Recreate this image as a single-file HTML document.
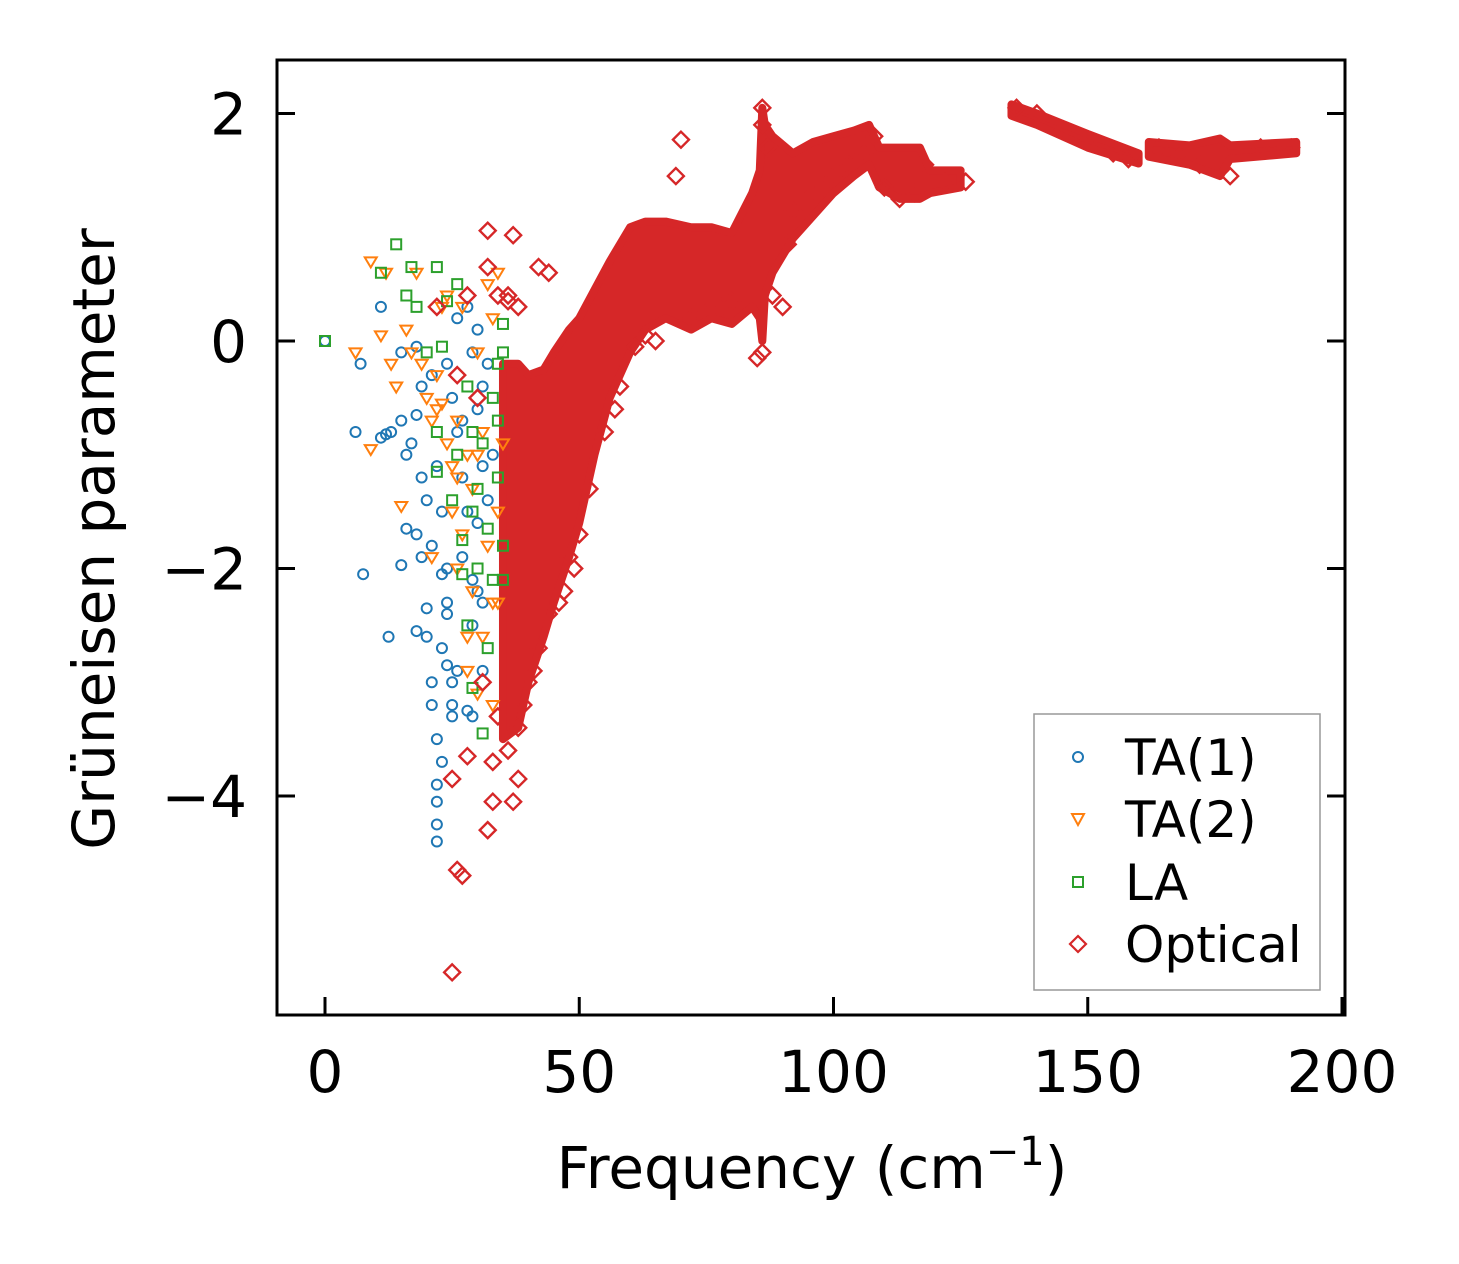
<!DOCTYPE html>
<html><head><meta charset="utf-8"><style>
html,body{margin:0;padding:0;background:#fff;}
svg{display:block;font-family:"DejaVu Sans","Liberation Sans",sans-serif;}
</style></head><body>
<svg id="chart" width="1459" height="1264" viewBox="0 0 1459 1264" xmlns="http://www.w3.org/2000/svg">
<g id="marks"></g>
<rect x="277" y="60" width="1068" height="955" fill="none" stroke="#000" stroke-width="3"/>
<g id="axes"></g>
<text x="812" y="1188" font-size="58" text-anchor="middle">Frequency (cm<tspan dy="-23" font-size="40">−1</tspan><tspan dy="23">)</tspan></text>
<text transform="translate(114,539) rotate(-90)" font-size="58" text-anchor="middle">Grüneisen parameter</text>
<g>
<rect x="1034" y="714" width="286" height="276" fill="#fff" stroke="#999" stroke-width="1.5"/>
<circle cx="1078" cy="757" r="5" fill="none" stroke="#1f77b4" stroke-width="2"/>
<text x="1125" y="775" font-size="50">TA(1)</text>
<path d="M1072,814 L1084,814 L1078,825 Z" fill="none" stroke="#ff7f0e" stroke-width="2"/>
<text x="1125" y="837" font-size="50">TA(2)</text>
<rect x="1073" y="877" width="10" height="10" fill="none" stroke="#2ca02c" stroke-width="2"/>
<text x="1125" y="900" font-size="50">LA</text>
<path d="M1078,936 L1086,944 L1078,952 L1070,944 Z" fill="none" stroke="#d62728" stroke-width="2.2"/>
<text x="1125" y="962" font-size="50">Optical</text>
</g>
</svg>
<script>
const xTicks=[0,50,100,150,200];
const yTicks=[2,0,-2,-4];
const yTickLabels=["2","0","−2","−4"];
const ta1X=[0,7,6,11,11,12,13,15,15,16,16,17,18,18,18,18,19,19,19,20,20,20,21,21,21,21,22,22,22,22,22,22,23,23,23,23,24,24,24,24,25,25,25,25,26,26,26,27,27,28,28,28,29,29,29,30,30,30,30,31,31,31,31,32,32,33,7.5,12.5,15,27,29,24];
const ta1Y=[0,-0.2,-0.8,0.3,-0.85,-0.82,-0.8,-0.1,-0.7,-1.0,-1.65,-0.9,-0.05,-0.65,-1.7,-2.55,-0.4,-1.2,-1.9,-1.4,-2.35,-2.6,-0.3,-1.8,-3.0,-3.2,-1.1,-3.5,-3.9,-4.05,-4.25,-4.4,-1.5,-2.05,-2.7,-3.7,-0.2,-2.3,-2.4,-2.85,-0.5,-3.0,-3.2,-3.3,-0.8,0.2,-2.9,-1.2,-1.9,0.3,-1.5,-3.25,-0.1,-2.1,-2.5,0.1,-0.6,-1.6,-2.2,-0.4,-1.1,-2.3,-2.9,-0.2,-1.4,-1.0,-2.05,-2.6,-1.97,-0.7,-3.3,-2.0];
const ta2X=[6,9,9,11,12,13,14,15,16,17,18,19,20,21,21,22,23,23,24,24,25,25,26,26,27,27,28,28,28,29,29,30,30,31,31,32,32,33,33,34,34,35,34,33,26,30,22];
const ta2Y=[-0.1,0.7,-0.95,0.05,0.6,-0.2,-0.4,-1.45,0.1,-0.1,0.6,-0.2,-0.5,-0.7,-1.9,-0.3,-0.55,0.3,-0.9,0.4,-1.1,-1.5,-0.7,-2.0,0.3,-1.7,-1.0,-2.6,-2.9,-1.3,-2.2,-0.1,-3.1,-0.8,-2.6,0.5,-1.8,-2.3,0.2,-1.5,-2.3,-0.9,0.6,-3.2,-1.2,-1.0,-0.6];
const laX=[0,11,14,16,17,18,20,22,22,22,23,24,25,26,26,27,27,28,28,29,29,30,30,31,31,32,33,33,34,34,35,35,35,35,34,32,29];
const laY=[0,0.6,0.85,0.4,0.65,0.3,-0.1,0.65,-0.8,-1.15,-0.05,0.35,-1.4,0.5,-1.0,-1.75,-2.05,-0.4,-2.5,-0.8,-3.05,-1.3,-2.0,-0.9,-3.45,-1.65,-0.5,-2.1,-0.2,-1.2,0.15,-0.1,-1.8,-2.1,-0.7,-2.7,-1.5];
const optX=[25,26,27,25,28,32,33,37,38,32,37,42,44,70,32,36,26,28,22,30,31,33,34,34,36,36,38,38,39,40,41,42,44,46,47,48,49,50,52,55,57,58,61,63,65,68,69,72,75,78,80,83,85,86,86,86,87,88,90,91,92,95,98,100,103,106,108,110,113,116,118,122,126,136,140,145,150,155,158,164,168,172,176,178,184,190];
const optY=[-5.55,-4.65,-4.7,-3.85,-3.65,-4.3,-4.05,-4.05,-3.85,0.97,0.93,0.65,0.6,1.77,0.65,0.4,-0.3,0.4,0.3,-0.5,-3.0,-3.7,-3.3,0.4,-3.6,0.35,-3.4,0.3,-3.2,-3.0,-2.9,-2.7,-2.4,-2.3,-2.2,-1.9,-2.0,-1.7,-1.3,-0.8,-0.6,-0.4,-0.05,0.05,0.0,0.4,1.45,0.2,0.25,0.3,0.35,0.6,-0.15,2.05,1.9,-0.1,1.7,0.4,0.3,0.85,1.15,1.25,1.35,1.45,1.55,1.65,1.8,1.35,1.25,1.3,1.55,1.4,1.4,2.05,2.0,1.85,1.75,1.65,1.6,1.7,1.62,1.55,1.5,1.45,1.7,1.7];
const bandSeg=[0,0,0,0,0,0,0,0,0,0,0,0,0,0,0,0,0,0,0,0,0,0,0,0,0,0,0,0,0,0,1,1,1,1,2,2,2,2,2];
const bandX=[35,38,40,43,45,48,50,53,56,60,63,67,72,76,80,84,85.5,86,86.5,88,92,96,100,104,107,109,113,117,119,125,135,140,150,160,162,170,176,178,191];
const bandLo=[-3.5,-3.4,-3.0,-2.6,-2.3,-1.9,-1.6,-1.0,-0.5,-0.1,0.1,0.2,0.1,0.2,0.15,0.3,0.2,0.0,0.4,0.6,0.9,1.1,1.3,1.45,1.55,1.35,1.25,1.25,1.3,1.35,1.98,1.9,1.7,1.56,1.62,1.55,1.45,1.6,1.65];
const bandHi=[-0.2,-0.2,-0.3,-0.25,-0.1,0.1,0.2,0.45,0.7,1.0,1.05,1.05,1.0,1.0,0.95,1.3,1.5,2.05,1.9,1.8,1.65,1.75,1.8,1.85,1.9,1.7,1.7,1.7,1.5,1.5,2.08,2.0,1.82,1.65,1.75,1.72,1.78,1.72,1.75];

const X=v=>325+v*5.085;
const Y=v=>341-v*113.75;
const NS="http://www.w3.org/2000/svg";
const marks=document.getElementById('marks');
const axes=document.getElementById('axes');
function mk(tag,attrs,parent){const e=document.createElementNS(NS,tag);for(const k in attrs)e.setAttribute(k,attrs[k]);parent.appendChild(e);return e;}

[0,1,2].forEach(s=>{
  const idx=bandSeg.map((g,i)=>g===s?i:-1).filter(i=>i>=0);
  const top=idx.map(i=>X(bandX[i])+','+Y(bandHi[i]));
  const bot=idx.slice().reverse().map(i=>X(bandX[i])+','+Y(bandLo[i]));
  const p=mk('polygon',{points:top.concat(bot).join(' '),fill:'#d62728',stroke:'#d62728','stroke-width':8,'stroke-linejoin':'round'},marks);
  
  
});
ta1X.forEach((x,i)=>{
  const c=mk('circle',{cx:X(x),cy:Y(ta1Y[i]),r:5,fill:'none',stroke:'#1f77b4','stroke-width':2},marks);
  
  
});
ta2X.forEach((x,i)=>{
  const cx=X(x),cy=Y(ta2Y[i]);
  const p=mk('path',{d:`M${cx-6},${cy-4} L${cx+6},${cy-4} L${cx},${cy+6} Z`,fill:'none',stroke:'#ff7f0e','stroke-width':2},marks);
  
  
});
laX.forEach((x,i)=>{
  const r=mk('rect',{x:X(x)-5,y:Y(laY[i])-5,width:10,height:10,fill:'none',stroke:'#2ca02c','stroke-width':2},marks);
  
  
});
optX.forEach((x,i)=>{
  const cx=X(x),cy=Y(optY[i]);
  const p=mk('path',{d:`M${cx},${cy-8} L${cx+8},${cy} L${cx},${cy+8} L${cx-8},${cy} Z`,fill:'none',stroke:'#d62728','stroke-width':2.4},marks);
  
  
});
xTicks.forEach(t=>{
  const l=mk('line',{x1:X(t),x2:X(t),y1:1015,y2:997,stroke:'#000','stroke-width':3},axes);
  
  
  const tx=mk('text',{x:X(t),y:1092,'font-size':58,'text-anchor':'middle'},axes);
  tx.textContent=t;
  
  
});
yTicks.forEach((t,i)=>{
  const l=mk('line',{x1:277,x2:295,y1:Y(t),y2:Y(t),stroke:'#000','stroke-width':3},axes);
  
  
  const r=mk('line',{x1:1327,x2:1345,y1:Y(t),y2:Y(t),stroke:'#000','stroke-width':3},axes);
  
  
  const tx=mk('text',{x:247,y:Y(t)+21,'font-size':58,'text-anchor':'end'},axes);
  tx.textContent=yTickLabels[i];
  
  
});
</script>
</body></html>
